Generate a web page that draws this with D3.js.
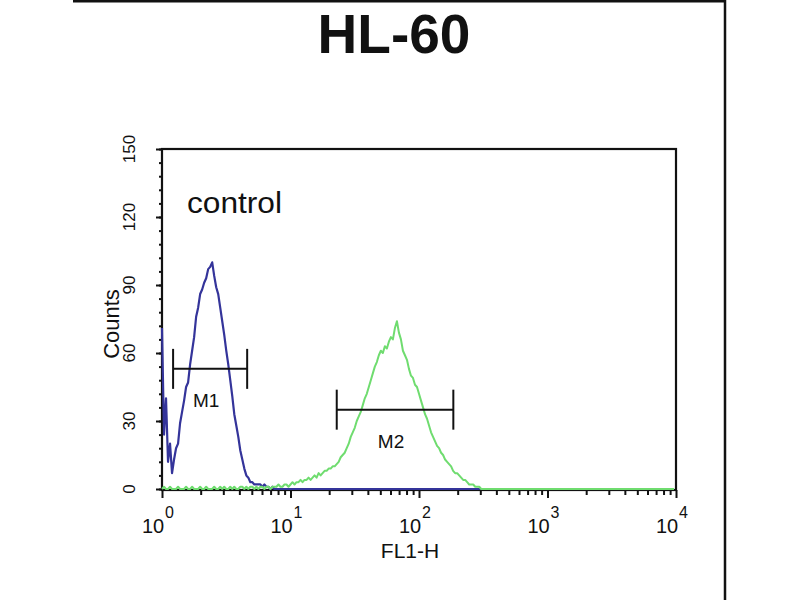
<!DOCTYPE html>
<html>
<head>
<meta charset="utf-8">
<script src="https://cdn.jsdelivr.net/npm/d3@7"></script>
<style>
  html, body { margin: 0; padding: 0; background: #fff; }
  svg { display: block; }
  text { font-family: "Liberation Sans", Arial, sans-serif; fill: #111; }
</style>
</head>
<body>
<svg id="chart" width="800" height="600"></svg>
<script>
// ---------------- data ----------------
const title = "HL-60";
const panelLabel = "control";
const xLabel = "FL1-H";
const yLabel = "Counts";
const xDecades = [1, 10, 100, 1000, 10000];
const xTickExponents = ["0", "1", "2", "3", "4"];
const yTicks = [0, 30, 60, 90, 120, 150];
const channelsPerDecade = 64;
const lastChannel = 255;

// control (blue) histogram counts, channels 0..56, zero afterwards
const controlCounts = [71, 24, 40, 12, 20, 7, 13, 18, 20, 29,
  34, 39, 45, 47, 55, 61, 67, 76, 80, 86,
  88, 91, 93, 97, 98, 100, 94, 89, 86, 80,
  74, 68, 61, 55, 48, 41, 33, 28, 23, 17,
  13, 9, 6, 5, 3, 3, 2, 2, 2, 2,
  1, 2, 1, 1, 0, 1, 0];

// stained sample (green) histogram counts, channels 0..160, zero afterwards
const sampleCounts = [0, 1, 0, 0, 1, 0, 0, 0, 1, 0,
  0, 0, 1, 0, 0, 1, 0, 0, 0, 1,
  0, 0, 1, 0, 0, 0, 1, 0, 0, 1,
  0, 1, 0, 0, 1, 0, 1, 0, 0, 1,
  1, 0, 1, 0, 1, 1, 0, 1, 0, 1,
  1, 0, 1, 1, 0, 1, 1, 1, 2, 1,
  1, 2, 2, 1, 2, 3, 2, 3, 3, 4,
  3, 4, 4, 5, 4, 5, 6, 5, 7, 6,
  7, 8, 8, 9, 9, 10, 10, 11, 12, 14,
  15, 16, 18, 20, 23, 25, 27, 30, 32, 34,
  37, 40, 42, 45, 48, 51, 54, 56, 59, 61,
  60, 63, 62, 65, 67, 66, 71, 74, 69, 66,
  61, 59, 57, 53, 50, 49, 46, 45, 42, 39,
  36, 33, 31, 28, 25, 23, 21, 19, 18, 16,
  15, 13, 12, 11, 10, 8, 7, 7, 6, 5,
  4, 4, 3, 2, 2, 2, 1, 1, 1, 0, 0];

// marker gates [low, high, height in counts]
const markerNames = ["M1", "M2"];
const markerLow = [1.22, 22.9];
const markerHigh = [4.6, 185];
const markerLevel = [53, 35];

// ---------------- drawing ----------------
const svg = d3.select("#chart");

const x = d3.scaleLog().domain([1, 10000]).range([162, 676]);
const y = d3.scaleLinear().domain([0, 150]).range([489, 149]);

// outer frame (top and right edges)
svg.append("line").attr("x1", 73).attr("x2", 726).attr("y1", 1.2).attr("y2", 1.2)
  .attr("stroke", "#111").attr("stroke-width", 2.5);
svg.append("line").attr("x1", 725).attr("x2", 725).attr("y1", 0).attr("y2", 600)
  .attr("stroke", "#111").attr("stroke-width", 2.5);

// title
svg.append("text").attr("x", 394).attr("y", 53).attr("text-anchor", "middle")
  .style("font-size", "55px").style("font-weight", "bold").text(title);

// y ticks
const yMinor = d3.range(0, 151, 6);
svg.append("g").attr("transform", "translate(162,0)")
  .call(d3.axisLeft(y).tickValues(yMinor).tickSize(3).tickFormat(""))
  .call(g => g.select(".domain").remove())
  .call(g => g.selectAll("line").attr("stroke", "#111").attr("stroke-width", 2));
svg.append("g").attr("transform", "translate(162,0)")
  .call(d3.axisLeft(y).tickValues(yTicks).tickSize(6).tickFormat(""))
  .call(g => g.select(".domain").remove())
  .call(g => g.selectAll("line").attr("stroke", "#111").attr("stroke-width", 2));

// y tick labels (rotated)
svg.append("g").selectAll("text").data(yTicks).join("text")
  .attr("transform", d => `translate(135,${y(d)}) rotate(-90)`)
  .attr("text-anchor", "middle")
  .style("font-size", "17px")
  .text(d => d);

// x ticks
const xMinor = [];
[1, 10, 100, 1000].forEach(dec => [2, 3, 4, 5, 6, 7, 8, 9].forEach(m => xMinor.push(dec * m)));
svg.append("g").attr("transform", "translate(0,490)")
  .call(d3.axisBottom(x).tickValues(xMinor).tickSize(5).tickFormat(""))
  .call(g => g.select(".domain").remove())
  .call(g => g.selectAll("line").attr("stroke", "#111").attr("stroke-width", 2));
svg.append("g").attr("transform", "translate(0,490)")
  .call(d3.axisBottom(x).tickValues(xDecades).tickSize(8).tickFormat(""))
  .call(g => g.select(".domain").remove())
  .call(g => g.selectAll("line").attr("stroke", "#111").attr("stroke-width", 2));

// x tick labels 10^n (one text element each, superscript as tspan)
const xl = svg.append("g");
xDecades.forEach((d, i) => {
  const px = x(d);
  const t = xl.append("text").attr("x", px - 20).attr("y", 533);
  t.append("tspan").style("font-size", "20px").text("10");
  t.append("tspan").attr("x", px + 3).attr("dy", -15)
    .style("font-size", "16px").text(xTickExponents[i]);
});

// axis titles
svg.append("text").attr("x", 410).attr("y", 558).attr("text-anchor", "middle")
  .style("font-size", "21px").text(xLabel);
svg.append("text").attr("transform", "translate(119,324) rotate(-90)")
  .attr("text-anchor", "middle").style("font-size", "22px").text(yLabel);

// panel label
svg.append("text").attr("x", 187).attr("y", 213)
  .attr("textLength", 95).attr("lengthAdjust", "spacingAndGlyphs")
  .style("font-size", "29px").text(panelLabel);

// histograms
const toPoints = counts => {
  const pts = counts.map((c, ch) => ({ch, c}));
  pts.push({ch: lastChannel, c: 0});
  return pts;
};
const line = d3.line()
  .x(d => x(Math.pow(10, d.ch / channelsPerDecade)))
  .y(d => y(d.c));

// plot frame
svg.append("rect").attr("x", 162).attr("y", 149).attr("width", 514).attr("height", 341)
  .attr("fill", "none").attr("stroke", "#111").attr("stroke-width", 2.2);

svg.append("path").datum(toPoints(controlCounts))
  .attr("d", line).attr("fill", "none")
  .attr("stroke", "#34349a").attr("stroke-width", 2.2).attr("stroke-linejoin", "round");
svg.append("path").datum(toPoints(sampleCounts))
  .attr("d", line).attr("fill", "none")
  .attr("stroke", "#6fdc6f").attr("stroke-width", 2).attr("stroke-linejoin", "round");

// markers
markerNames.forEach((name, i) => {
  const g = svg.append("g");
  const x0 = x(markerLow[i]), x1 = x(markerHigh[i]), yy = y(markerLevel[i]);
  g.append("line").attr("x1", x0).attr("x2", x1).attr("y1", yy).attr("y2", yy)
    .attr("stroke", "#111").attr("stroke-width", 2);
  [x0, x1].forEach(xx => g.append("line").attr("x1", xx).attr("x2", xx)
    .attr("y1", yy - 20).attr("y2", yy + 20).attr("stroke", "#111").attr("stroke-width", 2));
  g.append("text").attr("x", (x0 + x1) / 2 - 4).attr("y", yy + 38)
    .attr("text-anchor", "middle").style("font-size", "19px").text(name);
});
</script>
</body>
</html>
